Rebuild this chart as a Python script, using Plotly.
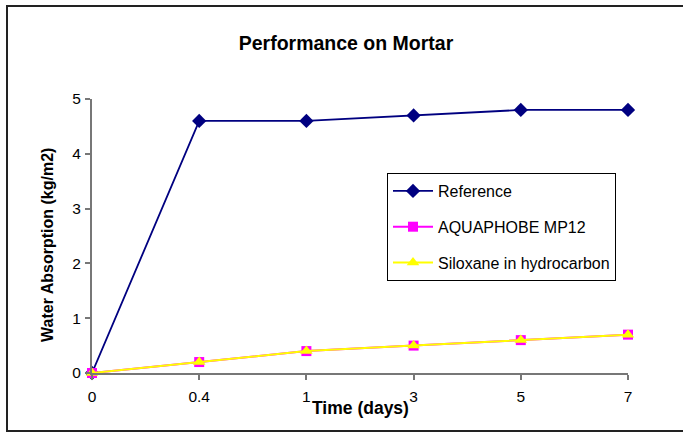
import plotly.graph_objects as go

categories = ["0", "0.4", "1", "3", "5", "7"]
reference = [0, 4.6, 4.6, 4.7, 4.8, 4.8]
aquaphobe = [0, 0.2, 0.4, 0.5, 0.6, 0.7]
siloxane = [0, 0.2, 0.4, 0.5, 0.6, 0.7]
y_ticks = [0, 1, 2, 3, 4, 5]

FONT = "Liberation Sans, Arial, sans-serif"
W, H = 683, 433
L, R, T, B = 92, 55, 99, 60
pw, ph = W - L - R, H - T - B


def px_x(p):
    return (p - L) / pw


def px_y(p):
    return (H - B - p) / ph


fig = go.Figure()
fig.add_trace(go.Scatter(
    x=categories, y=reference, name="Reference", mode="lines+markers",
    line=dict(color="#000080", width=1.8),
    marker=dict(symbol="diamond", size=11, color="#000080"),
    cliponaxis=False, legendgroup="a"))
fig.add_trace(go.Scatter(
    x=categories, y=aquaphobe, name="AQUAPHOBE MP12", mode="lines+markers",
    line=dict(color="#FF00FF", width=2),
    marker=dict(symbol="square", size=10, color="#FF00FF"),
    cliponaxis=False, legendgroup="b"))
fig.add_trace(go.Scatter(
    x=categories, y=siloxane, name="Siloxane in hydrocarbon", mode="lines+markers",
    line=dict(color="#FFFF00", width=2),
    marker=dict(symbol="triangle-up", size=11, color="#FFFF00"),
    cliponaxis=False, legendgroup="c"))

fig.update_layout(
    width=W, height=H,
    margin=dict(l=L, r=R, t=T, b=B),
    paper_bgcolor="white", plot_bgcolor="white",
    font=dict(family=FONT, size=15.5, color="black"),
    title=dict(text="<b>Performance on Mortar</b>", font=dict(size=19.5, family=FONT),
               xref="paper", x=px_x(346), xanchor="center",
               yref="container", y=1 - 43 / H, yanchor="middle"),
    xaxis=dict(type="category", categoryorder="array", categoryarray=categories,
               range=[0, 5], showgrid=False, zeroline=False,
               showline=True, linecolor="#777777", linewidth=2,
               ticks="outside", ticklen=5, tickcolor="#777777", tickwidth=2,
               ticklabelstandoff=3, tickfont=dict(size=15.5)),
    yaxis=dict(range=[0, 5], tickvals=y_ticks, showgrid=False, zeroline=False,
               showline=True, linecolor="#777777", linewidth=2,
               ticks="outside", ticklen=5, tickcolor="#777777", tickwidth=2,
               ticklabelstandoff=1, tickfont=dict(size=15.5)),
    legend=dict(x=px_x(387), y=px_y(173), xanchor="left", yanchor="top",
                bordercolor="black", borderwidth=1, bgcolor="white",
                font=dict(size=16, family=FONT), tracegroupgap=12,
                itemwidth=40),
    showlegend=True,
)

fig.add_annotation(text="<b>Time (days)</b>", xref="paper", yref="paper",
                   x=0.5, y=px_y(408), xanchor="center", yanchor="middle",
                   showarrow=False, font=dict(size=17.5, family=FONT))
fig.add_annotation(text="<b>Water Absorption (kg/m2)</b>", xref="paper", yref="paper",
                   x=px_x(47), y=px_y(245), xanchor="center", yanchor="middle",
                   textangle=-90, showarrow=False, font=dict(size=16, family=FONT))

fig.add_shape(type="rect", xref="paper", yref="paper",
              x0=px_x(7), x1=px_x(700), y0=px_y(431), y1=px_y(6),
              line=dict(color="#222222", width=2), fillcolor="rgba(0,0,0,0)",
              layer="below")

fig.write_html("out.html", config={"displayModeBar": False},
               post_script="document.body.style.margin='0';document.body.style.overflow='hidden';")
